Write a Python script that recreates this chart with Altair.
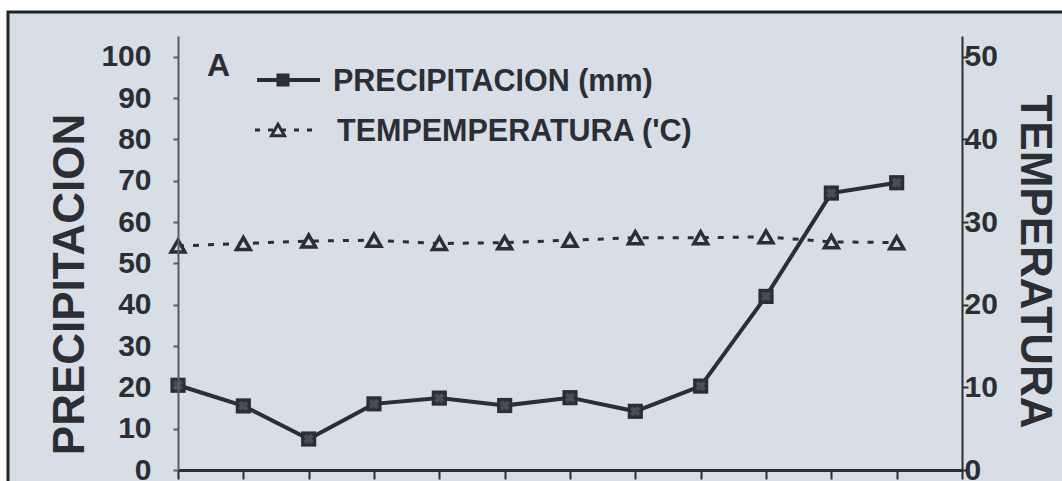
import altair as alt
import pandas as pd

# ---- data ----
meses = ["ENE", "FEB", "MAR", "ABR", "MAY", "JUN", "JUL", "AGO", "SEP", "OCT", "NOV", "DIC"]
mes_idx = list(range(12))
precipitacion = [20.5, 15.5, 7.5, 16.0, 17.4, 15.6, 17.5, 14.2, 20.3, 42.0, 67.0, 69.5]
temperatura = [27.1, 27.4, 27.7, 27.8, 27.4, 27.5, 27.8, 28.1, 28.1, 28.2, 27.6, 27.5]
ticks_x = list(range(13))
ticks_precip = list(range(0, 101, 10))
ticks_temp = list(range(0, 51, 10))

INK = "#2b2e33"
BG = "#d7dee6"
FONT = "Liberation Sans"

df = pd.DataFrame({"idx": mes_idx, "mes": meses, "precip": precipitacion, "temp": temperatura})
one = pd.DataFrame({"k": [0]})

W, H = 784, 434

x_enc = alt.X(
    "idx:Q",
    scale=alt.Scale(domain=[0, 12], nice=False, zero=False),
    axis=alt.Axis(
        values=ticks_x, labels=False, title="", grid=False, zindex=1,
        tickSize=9, tickWidth=2, tickColor=INK, domainColor=INK, domainWidth=3,
    ),
)

bg = alt.Chart(one).mark_rect(fill=BG, stroke="#1c262d", strokeWidth=3, clip=False).encode(
    x=alt.value(-170), x2=alt.value(930), y=alt.value(-24), y2=alt.value(500)
)

precip_axis = alt.Axis(
    values=ticks_precip, grid=False, orient="left", zindex=1,
    labelFont=FONT, labelFontWeight="bold", labelFontSize=30, labelColor=INK,
    labelPadding=22, tickSize=5, tickWidth=2, tickColor="#555c63",
    domainColor="#555c63", domainWidth=2,
    title="PRECIPITACION", titleFont=FONT, titleFontWeight="bold", titleFontSize=44,
    titleColor=INK, titleAngle=270, titleX=-108, titleY=248,
    titleAlign="center", titleBaseline="middle",
)

temp_axis = alt.Axis(
    values=ticks_temp, grid=False, orient="right", zindex=1,
    labelFont=FONT, labelFontWeight="bold", labelFontSize=30, labelColor=INK,
    labelPadding=-4, tickSize=6, tickWidth=2, tickColor=INK,
    domainColor=INK, domainWidth=2,
    title="TEMPERATURA", titleFont=FONT, titleFontWeight="bold", titleFontSize=44,
    titleColor=INK, titleAngle=90, titleX=71, titleY=225,
    titleAlign="center", titleBaseline="middle",
)

y_p = alt.Y("precip:Q", scale=alt.Scale(domain=[0, 105], nice=False), axis=precip_axis)
y_t = alt.Y("temp:Q", scale=alt.Scale(domain=[0, 52.5], nice=False), axis=temp_axis)

p_line = alt.Chart(df).mark_line(color=INK, strokeWidth=4).encode(x=x_enc, y=y_p)
p_pts = alt.Chart(df).mark_point(shape="square", filled=True, size=230, color=INK, opacity=1).encode(x=x_enc, y=y_p)
p_x = alt.Chart(df).mark_point(shape="cross", filled=True, size=110, color="#4a4e53", angle=45, opacity=1).encode(x=x_enc, y=y_p)

t_line = alt.Chart(df).mark_line(color=INK, strokeWidth=3, strokeDash=[6, 9]).encode(x=x_enc, y=y_t)
t_pts = alt.Chart(df).mark_point(shape="triangle-up", filled=False, fill=BG, size=190, stroke=INK, strokeWidth=3.5, opacity=1).encode(x=x_enc, y=y_t)

# ---- hand-drawn legend ----
txt = dict(font=FONT, fontWeight="bold", color=INK, align="left", baseline="middle")
leg_A = alt.Chart(one).mark_text(fontSize=32, **txt).encode(x=alt.value(29), y=alt.value(30), text=alt.value("A"))
leg_r1 = alt.Chart(one).mark_rule(color=INK, strokeWidth=4).encode(x=alt.value(79), x2=alt.value(142), y=alt.value(44))
leg_m1 = alt.Chart(one).mark_point(shape="square", filled=True, size=170, color=INK, opacity=1).encode(x=alt.value(105), y=alt.value(44))
leg_t1 = alt.Chart(one).mark_text(fontSize=30.5, **txt).encode(x=alt.value(155), y=alt.value(46), text=alt.value("PRECIPITACION (mm)"))
leg_r2 = alt.Chart(one).mark_rule(color=INK, strokeWidth=3, strokeDash=[5, 8]).encode(x=alt.value(77), x2=alt.value(136), y=alt.value(94))
leg_m2 = alt.Chart(one).mark_point(shape="triangle-up", filled=False, fill=BG, size=170, stroke=INK, strokeWidth=3, opacity=1).encode(x=alt.value(100), y=alt.value(94))
leg_t2 = alt.Chart(one).mark_text(fontSize=30.5, **txt).encode(x=alt.value(159), y=alt.value(96), text=alt.value("TEMPEMPERATURA ('C)"))

precip_layer = alt.layer(p_line, p_pts, p_x)
temp_layer = alt.layer(t_line, t_pts)

chart = alt.layer(
    bg, precip_layer, temp_layer,
    leg_A, leg_r1, leg_m1, leg_t1, leg_r2, leg_m2, leg_t2,
).resolve_scale(y="independent").resolve_axis(y="independent").properties(
    width=W, height=H,
    autosize=alt.AutoSizeParams(type="none"),
    padding={"left": 178, "top": 36, "right": 100, "bottom": 11},
    background="white",
).configure_view(strokeWidth=0)

chart.save("out.html", embed_options={"renderer": "svg", "actions": False})
